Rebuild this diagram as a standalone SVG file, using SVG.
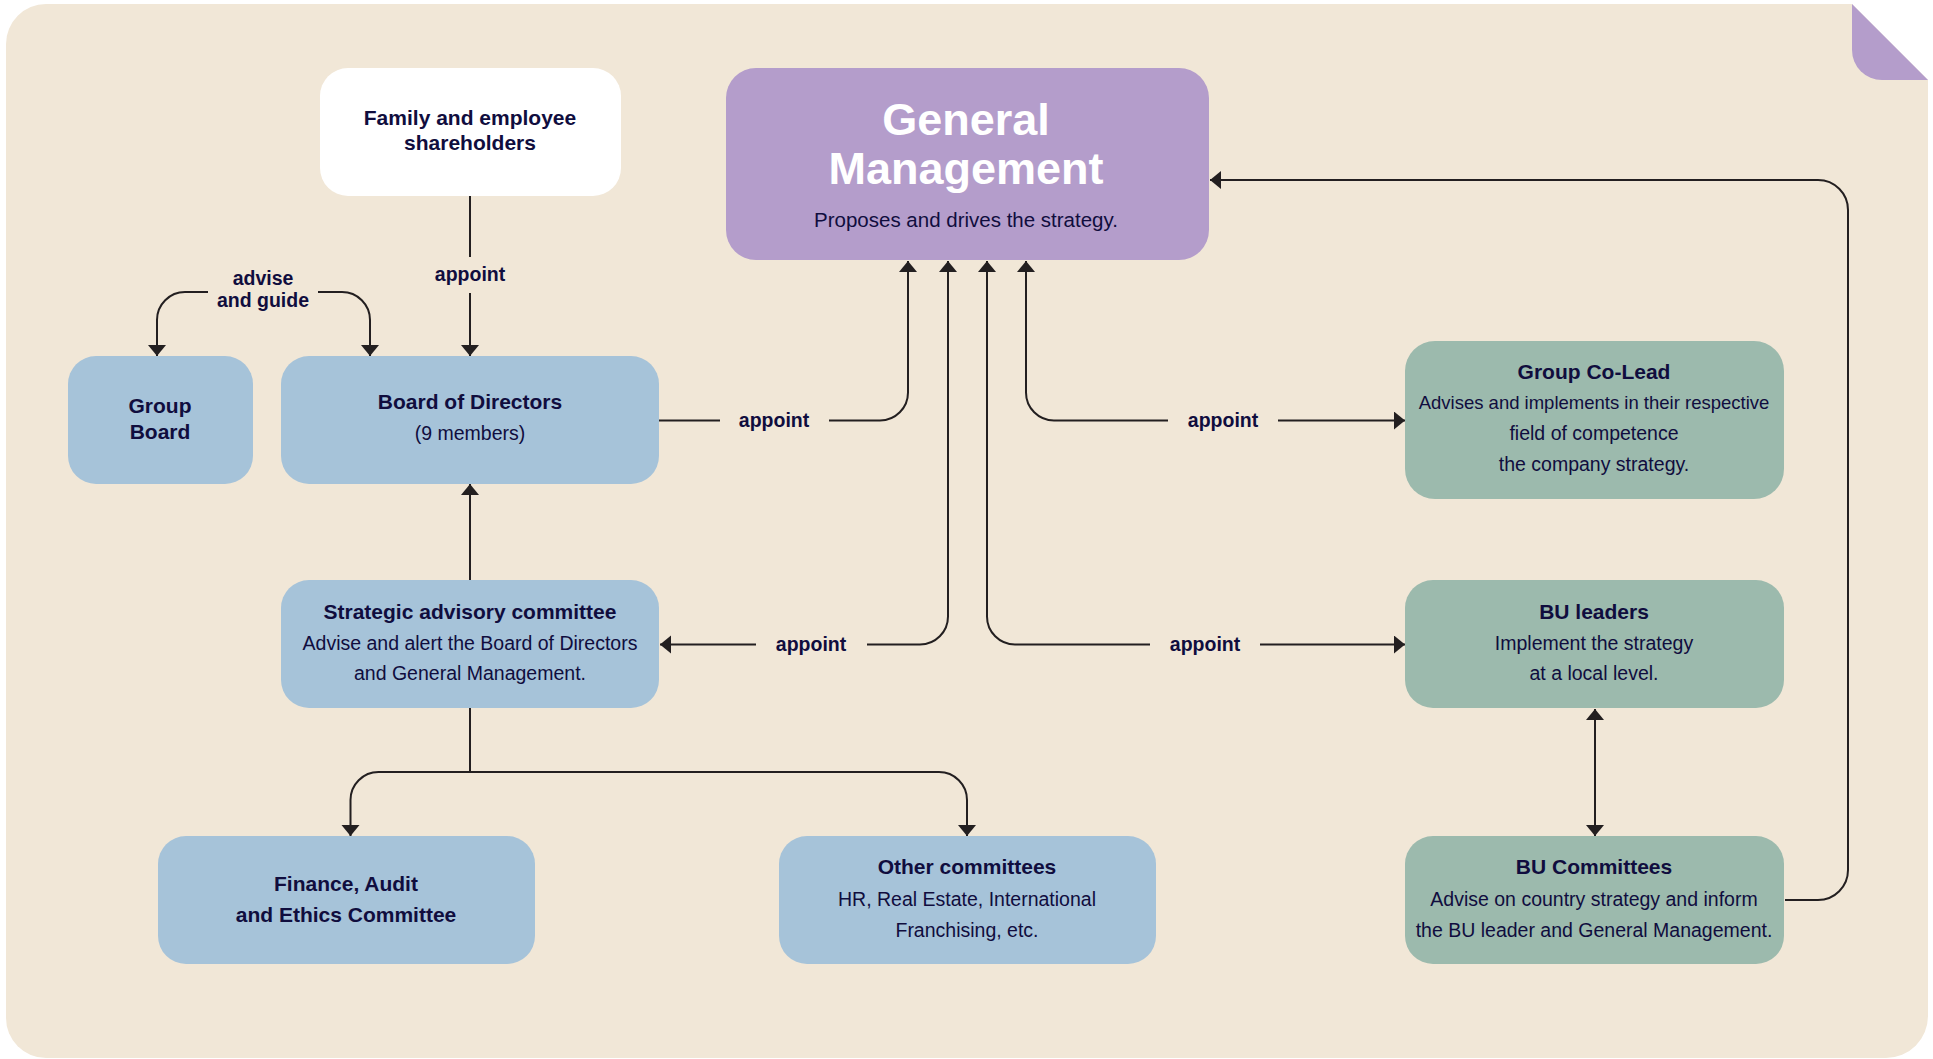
<svg xmlns="http://www.w3.org/2000/svg" width="1933" height="1059" viewBox="0 0 1933 1059">
<style>
.bg{fill:#F1E7D7}
.blue{fill:#A6C3D9}
.green{fill:#9CBAAD}
.purple{fill:#B49DCB}
.white{fill:#FFFFFF}
text{font-family:"Liberation Sans",Arial,sans-serif;fill:#100D3E;text-anchor:middle}
.t{font-weight:bold;font-size:21px}
.d{font-size:19.5px}
.lbl{font-weight:bold;font-size:19.5px}
.gm{font-weight:bold;font-size:45px;fill:#FFFFFF}
.line{fill:none;stroke:#231F20;stroke-width:2}
</style>
<defs>
<marker id="ah" markerUnits="userSpaceOnUse" markerWidth="13" markerHeight="20" refX="11" refY="9" orient="auto-start-reverse" viewBox="0 0 13 20">
<path d="M0,0 L11,9 L0,18 Z" fill="#231F20"/>
</marker>
</defs>
<rect x="0" y="0" width="1933" height="1059" fill="#FFFFFF"/>
<path class="bg" d="M46,4 H1852 L1928,80 V1016 A42,42 0 0 1 1886,1058 H46 A40,40 0 0 1 6,1018 V44 A40,40 0 0 1 46,4 Z"/>
<path class="purple" d="M1852,4 L1928,80 H1882 A30,30 0 0 1 1852,50 Z"/>

<g id="connectors">
<path class="line" d="M470,196 V257"/>
<path class="line" d="M470,293 V356" marker-end="url(#ah)"/>
<path class="line" d="M208,292 H185 A28,28 0 0 0 157,320 V356" marker-end="url(#ah)"/>
<path class="line" d="M318,292 H342 A28,28 0 0 1 370,320 V356" marker-end="url(#ah)"/>
<path class="line" d="M470,580 V484" marker-end="url(#ah)"/>
<path class="line" d="M659,420.5 H720"/>
<path class="line" d="M829,420.5 H880 A28,28 0 0 0 908,392.5 V261" marker-end="url(#ah)"/>
<path class="line" d="M948,261 V616.5 A28,28 0 0 1 920,644.5 H867" marker-start="url(#ah)"/>
<path class="line" d="M756,644.5 H660" marker-end="url(#ah)"/>
<path class="line" d="M987,261 V616.5 A28,28 0 0 0 1015,644.5 H1150" marker-start="url(#ah)"/>
<path class="line" d="M1260,644.5 H1405" marker-end="url(#ah)"/>
<path class="line" d="M1026,261 V392.5 A28,28 0 0 0 1054,420.5 H1168" marker-start="url(#ah)"/>
<path class="line" d="M1278,420.5 H1405" marker-end="url(#ah)"/>
<path class="line" d="M1595,709 V836" marker-start="url(#ah)" marker-end="url(#ah)"/>
<path class="line" d="M1785,900 H1818 A30,30 0 0 0 1848,870 V210 A30,30 0 0 0 1818,180 H1210" marker-end="url(#ah)"/>
<path class="line" d="M470,708 V772"/>
<path class="line" d="M350.5,836 V800 A28,28 0 0 1 378.5,772 H939 A28,28 0 0 1 967,800 V836" marker-start="url(#ah)" marker-end="url(#ah)"/>
<text class="lbl" x="470" y="281">appoint</text>
<text class="lbl" x="263" y="285">advise</text>
<text class="lbl" x="263" y="307">and guide</text>
<text class="lbl" x="774" y="427">appoint</text>
<text class="lbl" x="811" y="651">appoint</text>
<text class="lbl" x="1205" y="651">appoint</text>
<text class="lbl" x="1223" y="427">appoint</text>
</g>

<g id="family">
<rect class="white" x="320" y="68" width="301" height="128" rx="28"/>
<text class="t" x="470" y="125">Family and employee</text>
<text class="t" x="470" y="150">shareholders</text>
</g>

<g id="general-management">
<rect class="purple" x="726" y="68" width="483" height="192" rx="30"/>
<text class="gm" x="966" y="135">General</text>
<text class="gm" x="966" y="184">Management</text>
<text class="d" x="966" y="227" style="font-size:20.5px">Proposes and drives the strategy.</text>
</g>

<g id="group-board">
<rect class="blue" x="68" y="356" width="185" height="128" rx="28"/>
<text class="t" x="160" y="413">Group</text>
<text class="t" x="160" y="439">Board</text>
</g>

<g id="board-of-directors">
<rect class="blue" x="281" y="356" width="378" height="128" rx="28"/>
<text class="t" x="470" y="409">Board of Directors</text>
<text class="d" x="470" y="440">(9 members)</text>
</g>

<g id="group-co-lead">
<rect class="green" x="1405" y="341" width="379" height="158" rx="30"/>
<text class="t" x="1594" y="379">Group Co-Lead</text>
<text class="d" x="1594" y="409" style="font-size:18.5px">Advises and implements in their respective</text>
<text class="d" x="1594" y="440">field of competence</text>
<text class="d" x="1594" y="471">the company strategy.</text>
</g>

<g id="strategic-advisory">
<rect class="blue" x="281" y="580" width="378" height="128" rx="28"/>
<text class="t" x="470" y="619">Strategic advisory committee</text>
<text class="d" x="470" y="650">Advise and alert the Board of Directors</text>
<text class="d" x="470" y="680">and General Management.</text>
</g>

<g id="bu-leaders">
<rect class="green" x="1405" y="580" width="379" height="128" rx="28"/>
<text class="t" x="1594" y="619">BU leaders</text>
<text class="d" x="1594" y="650">Implement the strategy</text>
<text class="d" x="1594" y="680">at a local level.</text>
</g>

<g id="finance-audit">
<rect class="blue" x="158" y="836" width="377" height="128" rx="28"/>
<text class="t" x="346" y="891">Finance, Audit</text>
<text class="t" x="346" y="922">and Ethics Committee</text>
</g>

<g id="other-committees">
<rect class="blue" x="779" y="836" width="377" height="128" rx="28"/>
<text class="t" x="967" y="874">Other committees</text>
<text class="d" x="967" y="906">HR, Real Estate, International</text>
<text class="d" x="967" y="937">Franchising, etc.</text>
</g>

<g id="bu-committees">
<rect class="green" x="1405" y="836" width="379" height="128" rx="28"/>
<text class="t" x="1594" y="874">BU Committees</text>
<text class="d" x="1594" y="906">Advise on country strategy and inform</text>
<text class="d" x="1594" y="937">the BU leader and General Management.</text>
</g>
</svg>
